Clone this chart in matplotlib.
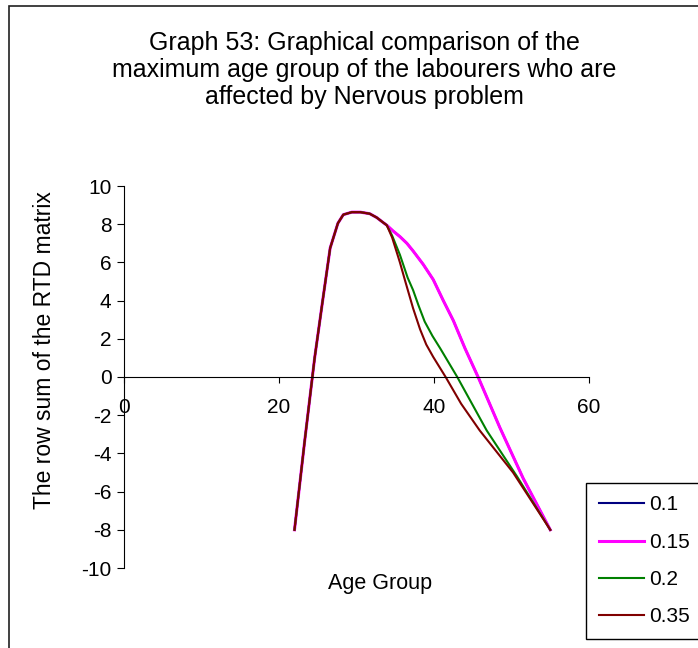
import matplotlib
matplotlib.use("Agg")
import matplotlib.pyplot as plt
from matplotlib.patches import Rectangle

plt.rcParams['font.family'] = ['Liberation Sans', 'DejaVu Sans']
plt.rcParams['axes.unicode_minus'] = False

# common rising part (all four series coincide here)
rise_x = [22, 23.3, 24.6, 25.6, 26.6, 27.6, 28.3, 29.4, 30.5, 31.7, 32.6, 33.4, 33.9]
rise_y = [-8, -3.4, 1.0, 3.9, 6.75, 8.05, 8.5, 8.63, 8.63, 8.55, 8.35, 8.1, 7.95]

# falling part per series
fall_x_01 = [34.7, 35.6, 36.5, 37.3, 38.6, 39.9, 41.2, 42.5, 44.0, 45.8, 48.5, 51.5, 55]
fall_y_01 = [7.65, 7.35, 7.0, 6.6, 5.9, 5.1, 4.0, 2.95, 1.5, -0.1, -2.65, -5.3, -8]
fall_x_015 = fall_x_01
fall_y_015 = fall_y_01
fall_x_02 = [34.6, 35.6, 36.6, 37.3, 38.0, 38.8, 39.8, 40.8, 43.0, 46.8, 50.7, 55]
fall_y_02 = [7.4, 6.4, 5.2, 4.55, 3.75, 2.9, 2.15, 1.5, 0.0, -2.8, -5.2, -8]
fall_x_035 = [34.6, 35.6, 36.3, 37.3, 38.2, 39.0, 39.9, 41.5, 43.5, 45.9, 50.2, 55]
fall_y_035 = [7.3, 6.0, 5.0, 3.6, 2.5, 1.7, 1.05, 0.0, -1.4, -2.8, -5.0, -8]

labels = ['0.1', '0.15', '0.2', '0.35']
colors = ['#000080', '#FF00FF', '#008000', '#800000']
widths = [1.5, 2.2, 1.5, 1.5]
falls = [(fall_x_01, fall_y_01), (fall_x_015, fall_y_015),
         (fall_x_02, fall_y_02), (fall_x_035, fall_y_035)]

W, H = 698, 648
fig = plt.figure(figsize=(W / 100, H / 100), dpi=100)
ax = fig.add_axes([124 / W, 1 - 568 / H, 465 / W, 382 / H])

for lab, c, lw, (fx, fy) in zip(labels, colors, widths, falls):
    ax.plot(rise_x + fx, rise_y + fy, color=c, lw=lw, label=lab)

ax.set_xlim(0, 60)
ax.set_ylim(-10, 10)
ax.set_xticks([0, 20, 40, 60])
ax.set_yticks(range(-10, 11, 2))
ax.spines['left'].set_position(('data', 0))
ax.spines['bottom'].set_position(('data', 0))
ax.spines['top'].set_visible(False)
ax.spines['right'].set_visible(False)
for s in ('left', 'bottom'):
    ax.spines[s].set_linewidth(0.8)
ax.tick_params(axis='x', direction='out', length=4, width=0.8, pad=11, labelsize=15)
ax.tick_params(axis='y', direction='out', length=5, width=0.8, pad=4, labelsize=15)

fig.text(364 / W, 1 - 70 / H,
         "Graph 53: Graphical comparison of the\n"
         "maximum age group of the labourers who are\n"
         "affected by Nervous problem",
         ha='center', va='center', fontsize=18, linespacing=1.17)
fig.text(45 / W, 1 - 350 / H, "The row sum of the RTD matrix",
         rotation=90, ha='center', va='center', fontsize=16.5)
fig.text(380 / W, 1 - 583 / H, "Age Group", ha='center', va='center', fontsize=15.5)

leg = ax.legend(loc='upper left', bbox_to_anchor=(586 / W, 1 - 483 / H),
                bbox_transform=fig.transFigure, borderaxespad=0,
                fontsize=15, handlelength=2.2, handletextpad=0.25,
                labelspacing=0.88, borderpad=0.6, fancybox=False,
                framealpha=1, edgecolor='black')
leg.get_frame().set_linewidth(1.0)

# outer chart frame (cut off at right and bottom in the original)
fig.patches.append(Rectangle((9 / W, -0.05), 1.2, 1 - 6 / H + 0.05,
                             transform=fig.transFigure, fill=False,
                             edgecolor='#202020', lw=1.2))

fig.savefig("out.png", dpi=100)
